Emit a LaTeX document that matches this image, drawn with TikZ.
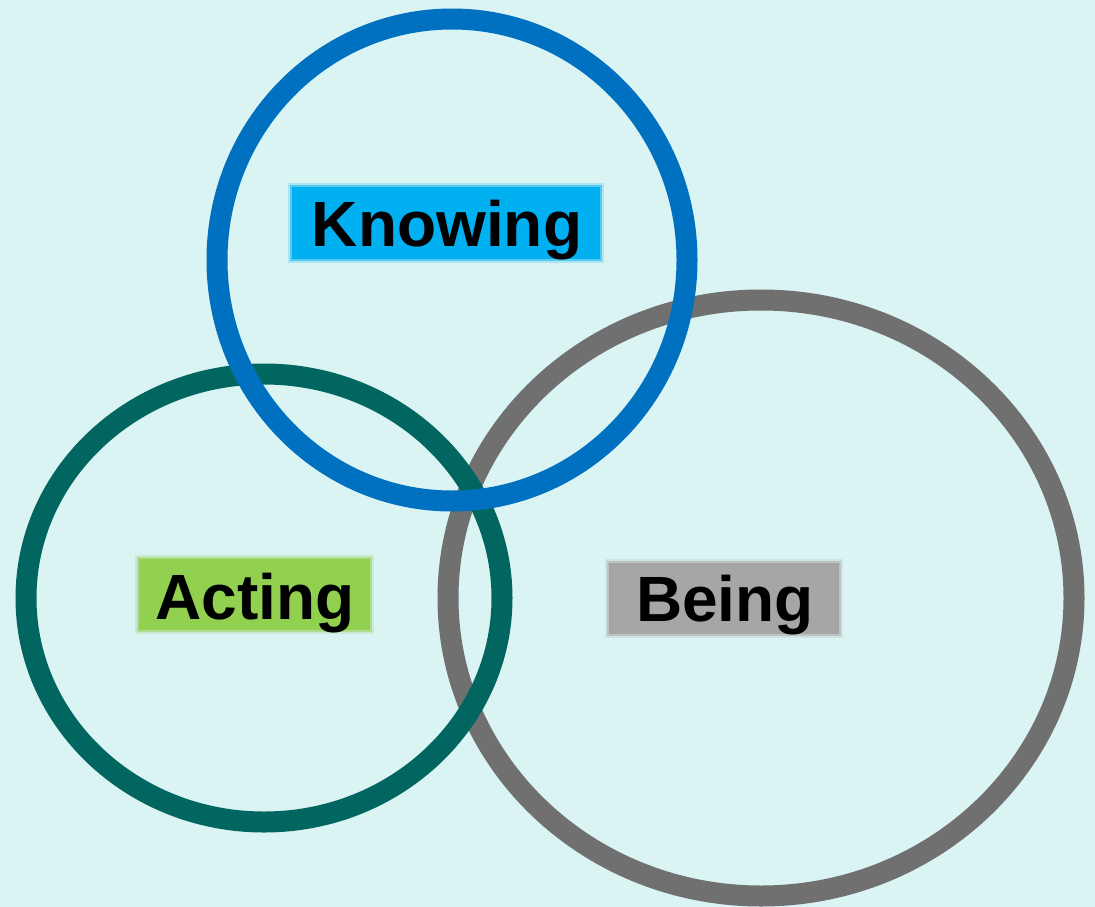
\documentclass[tikz,border=0pt]{standalone}
\usepackage{fontspec}
\setmainfont{Liberation Sans}
\definecolor{bgc}{HTML}{DAF3F3}
\definecolor{blueC}{HTML}{0070C0}
\definecolor{tealC}{HTML}{00665F}
\definecolor{grayC}{HTML}{707070}
\definecolor{knowC}{HTML}{00B0F0}
\definecolor{actC}{HTML}{92D050}
\definecolor{beC}{HTML}{A6A6A6}
\begin{document}
\begin{tikzpicture}[x=1pt,y=-1pt,
  ring/.style={line width=21pt},
  lbl/.style={inner sep=0pt, minimum height=75pt, font=\fontsize{64}{68}\selectfont\bfseries, text=black}]
\fill[bgc] (0,0) rectangle (1095,907);
\useasboundingbox (0,0) rectangle (1095,907);
% label boxes with soft edges
\foreach \c/\xa/\ya/\xb/\yb in {knowC/290/185/602/261, actC/137/557/372/632, beC/607/561/841/636}{
  \fill[\c, opacity=0.2] (\xa-2,\ya-2) rectangle (\xb+2,\yb+2);
  \fill[\c, opacity=0.5] (\xa,\ya) rectangle (\xb,\yb);
  \fill[\c] (\xa+2,\ya+2) rectangle (\xb-2,\yb-2);
}
\node[lbl] (know) at (447,230) {Knowing};
\node[lbl] (act) at (255,603) {Acting};
\node[lbl] (be) at (725,605) {Being};
% rings
\draw[ring, grayC] (761,598) ellipse [x radius=313, y radius=298];
\draw[ring, tealC] (264,598) ellipse [x radius=238, y radius=224];
\draw[ring, blueC] (452,260) ellipse [x radius=235, y radius=241];
\end{tikzpicture}
\end{document}
